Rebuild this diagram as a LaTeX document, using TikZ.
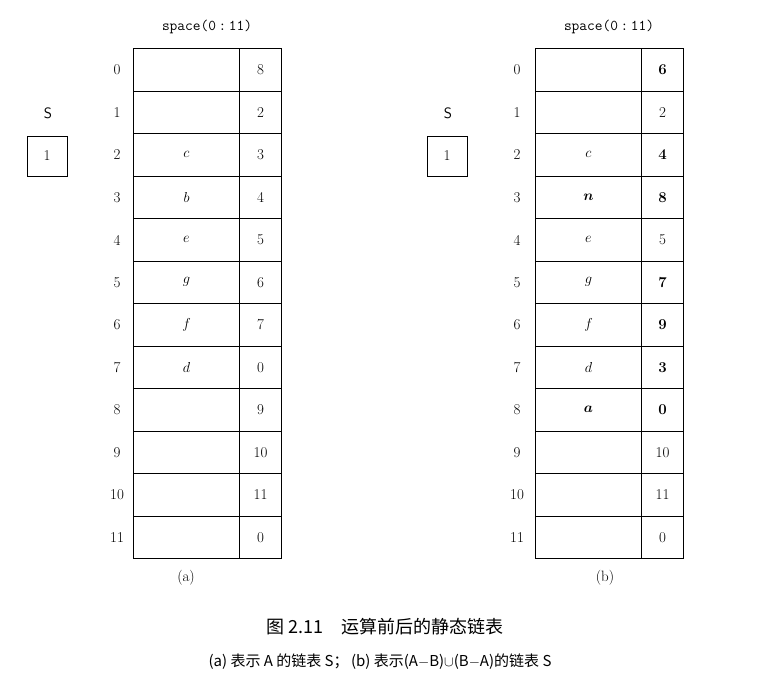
\documentclass[tikz,border=0pt]{standalone}
\usepackage{bm}
\usepackage{fontspec}
\newfontfamily\cjk{Noto Sans CJK SC}
\begin{document}
\begin{tikzpicture}[x=1pt,y=-1pt,
  cell/.style={draw,line width=1pt,minimum height=42.5pt,inner sep=0pt,anchor=north west,font=\fontsize{15}{18}\selectfont},
  lbl/.style={font=\fontsize{15}{18}\selectfont},
  sbox/.style={draw,line width=1pt,minimum width=40pt,minimum height=40pt,inner sep=0pt,font=\fontsize{15}{18}\selectfont}]
\useasboundingbox (0,0) rectangle (765,699);
% table (a)
\node[lbl] (ha) at (207,27) {\ttfamily space(0\,:\,11)};
\foreach \i/\d/\v in {0//8,1//2,2/c/3,3/b/4,4/e/5,5/g/6,6/f/7,7/d/0,8//9,9//10,10//11,11//0}{
  \node[cell,minimum width=106pt] (ad\i) at (133,{48+42.5*\i}) {$\d$};
  \node[cell,minimum width=42pt] (av\i) at (239,{48+42.5*\i}) {\v};
  \node[lbl] (ai\i) at (117,{70+42.5*\i}) {\i};
}
\node[lbl] (sa) at (48,113) {\sffamily S};
\node[sbox] (sba) at (47,156) {1};
\node[lbl] (ca) at (186,578) {(a)};
% table (b)
\node[lbl] (hb) at (609,27) {\ttfamily space(0\,:\,11)};
\foreach \i/\d/\v in {0//\textbf{6},1//2,2/c/\textbf{4},3/\bm{n}/\textbf{8},4/e/5,5/g/\textbf{7},6/f/\textbf{9},7/d/\textbf{3},8/\bm{a}/\textbf{0},9//10,10//11,11//0}{
  \node[cell,minimum width=106pt] (bd\i) at (535,{48+42.5*\i}) {$\d$};
  \node[cell,minimum width=42pt] (bv\i) at (641,{48+42.5*\i}) {\v};
  \node[lbl] (bi\i) at (517,{70+42.5*\i}) {\i};
}
\node[lbl] (sb) at (448,113) {\sffamily S};
\node[sbox] (sbb) at (447,156) {1};
\node[lbl] (cb) at (605,578) {(b)};
% captions
\node[font=\fontsize{18}{22}\selectfont] (t1) at (385,627) {\cjk 图 2.11\quad 运算前后的静态链表};
\node[font=\fontsize{15}{18}\selectfont] (t2) at (380,662) {\cjk (a) 表示 \textit{A} 的链表 S；\,(b) 表示(\textit{A}$-$\textit{B})$\cup$(\textit{B}$-$\textit{A})的链表 S};
\end{tikzpicture}
\end{document}
